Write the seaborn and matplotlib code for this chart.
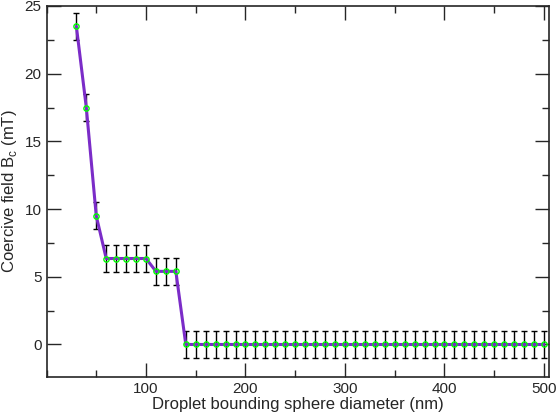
import numpy as np
import pandas as pd
import seaborn as sns
import matplotlib.pyplot as plt
from matplotlib.ticker import MultipleLocator, FixedLocator

# droplet diameters (nm) and coercive field (mT)
diameter = [30, 40, 50, 60, 70, 80, 90, 100, 110, 120, 130] + list(range(140, 510, 10))
coercive = [23.5, 17.5, 9.5, 6.35, 6.35, 6.35, 6.35, 6.35, 5.4, 5.4, 5.4] + [0.0] * 37
error = [1.0] * len(diameter)
xticks = [100, 200, 300, 400, 500]

df = pd.DataFrame({'diameter': diameter, 'coercive': coercive, 'error': error})

sns.set_style('ticks')
plt.rcParams['font.family'] = ['Liberation Sans', 'DejaVu Sans']

fig = plt.figure(figsize=(5.57, 4.15), dpi=100)
ax = fig.add_axes([0.0835, 0.0916, 0.902, 0.894])

# error bars behind the curve
ax.errorbar(df['diameter'], df['coercive'], yerr=df['error'], fmt='none',
            ecolor='black', elinewidth=1.0, capsize=2.2, capthick=1.0, zorder=1)

sns.lineplot(data=df, x='diameter', y='coercive', ax=ax, color='#7b2cc8',
             linewidth=2.2, marker='o', markersize=3.8, markerfacecolor='none',
             markeredgecolor='#00ff00', markeredgewidth=1.0, zorder=2)

ax.set_xlim(0, 505)
ax.set_ylim(-2.4, 25)
ax.xaxis.set_major_locator(FixedLocator(xticks))
ax.xaxis.set_minor_locator(MultipleLocator(50))
ax.yaxis.set_major_locator(MultipleLocator(5))
ax.yaxis.set_minor_locator(MultipleLocator(2.5))
ax.tick_params(which='both', direction='in', top=True, right=True, labelsize=11, width=1.0)
ax.tick_params(which='major', length=10)
ax.tick_params(which='minor', length=5)
for s in ax.spines.values():
    s.set_linewidth(1.2)
    s.set_visible(True)

ax.set_xlabel('Droplet bounding sphere diameter (nm)', fontsize=12, labelpad=1)
ax.set_ylabel('Coercive field B$_\\mathregular{c}$ (mT)', fontsize=12, labelpad=4)

fig.savefig('out.png', dpi=100)
